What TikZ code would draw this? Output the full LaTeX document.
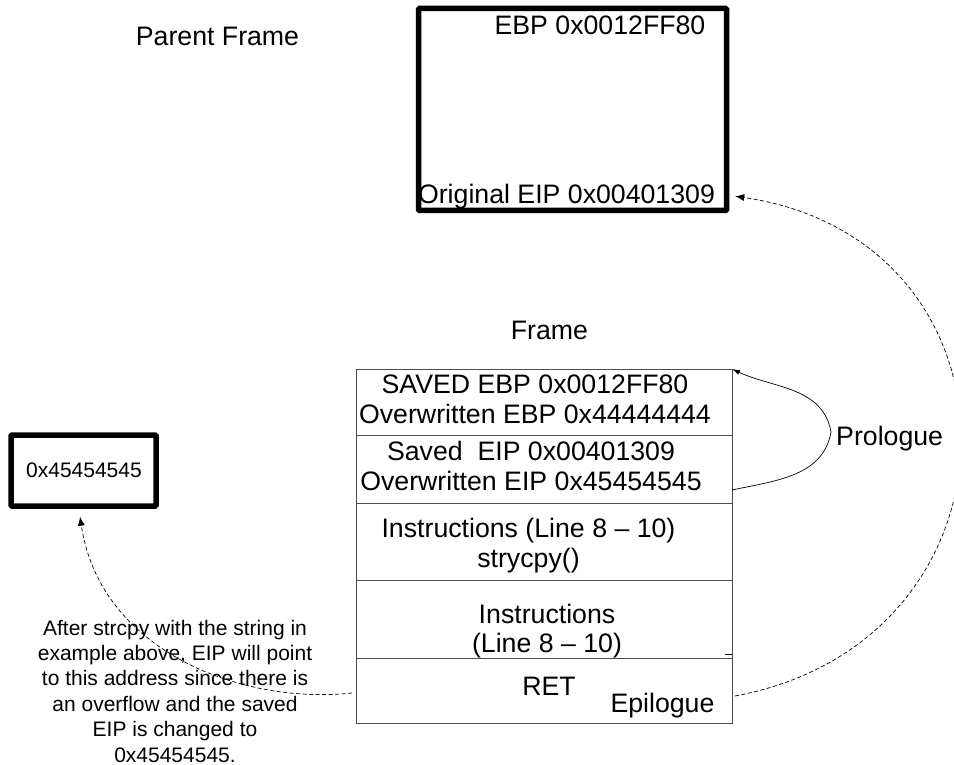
\documentclass[tikz,border=0pt]{standalone}
\usepackage{fontspec}
\setmainfont{Liberation Sans}
\usetikzlibrary{arrows.meta, positioning}

\begin{document}
\begin{tikzpicture}[
  x=1pt, y=-1pt,
  thickbox/.style={draw, line width=5.5pt, rounded corners=1pt, inner sep=0pt},
  cell/.style={draw=black!70, line width=1pt, minimum width=376pt, inner sep=0pt, outer sep=0pt},
  bigtext/.style={font=\fontsize{26.7}{29.5}\selectfont, align=center, inner sep=0pt},
  smalltext/.style={font=\fontsize{21}{25.4}\selectfont, align=center, inner sep=0pt},
  arrow/.style={-{Latex[length=9pt,width=7pt]}},
  dashedarrow/.style={arrow, line width=0.7pt, dash pattern=on 4pt off 2.5pt}
]
\useasboundingbox (0,0) rectangle (954,765);

% Parent frame
\node [bigtext, anchor=base] (parenttitle) at (217.5,46) {Parent Frame};
\node [thickbox, minimum width=308pt, minimum height=202pt] (parentbox) at (572.5,109.5) {};
\node [bigtext, anchor=base] (ebpold) at (600,35) {EBP 0x0012FF80};
\node [bigtext, anchor=base] (eipold) at (566.5,204) {Original EIP 0x00401309};

% Frame of the called function
\node [bigtext, anchor=base] (frametitle) at (549.5,339) {Frame};
\node [cell, minimum height=66pt] (ebpcell) at (544,402) {};
\node [cell, minimum height=68pt, below=0pt of ebpcell] (eipcell) {};
\node [cell, minimum height=77pt, below=0pt of eipcell] (strcell) {};
\node [cell, minimum height=78pt, below=0pt of strcell] (insncell) {};
\node [cell, minimum height=65pt, below=0pt of insncell] (retcell) {};

\node [bigtext] (ebptext) at ([xshift=-9pt,yshift=2.5pt]ebpcell.center)
  {SAVED EBP 0x0012FF80\\Overwritten EBP 0x44444444};
\node [bigtext] (eiptext) at ([xshift=-13pt,yshift=3pt]eipcell.center)
  {Saved\ \ EIP 0x00401309\\Overwritten EIP 0x45454545};
\node [bigtext] (strtext) at ([xshift=-15.5pt,yshift=-4pt]strcell.center)
  {Instructions (Line 8 -- 10)\\strycpy()};
\node [bigtext] (insntext) at ([xshift=3pt,yshift=-12pt]insncell.center)
  {Instructions\\(Line 8 -- 10)};
\node [bigtext, anchor=base] (rettext) at (549,695) {RET};
\node [bigtext, anchor=base] (epilogue) at (662.5,712) {Epilogue};

% Prologue loop
\node [bigtext, anchor=base west] (prologue) at (836,445) {Prologue};
\coordinate (peak) at (831,432);
\draw [-{Latex[length=8pt,width=5pt]}, line width=0.7pt]
  ([yshift=13pt]eipcell.south east) to[out=12,in=-100] (peak)
  to[out=100,in=-25] (ebpcell.north east);
\coordinate (tick) at ([yshift=4pt]insncell.south east);
\draw [line width=0.7pt] (tick) -- ++(-7,0);

% Epilogue returns to the parent
\coordinate (epiout) at ([xshift=3pt,yshift=-5.5pt]retcell.east);
\coordinate (eipin) at ([xshift=6pt,yshift=17pt]parentbox.south east);
\draw [dashedarrow] (epiout) .. controls (1035,640) and (1035,240) .. (eipin);

% Overwritten return address
\node [thickbox, minimum width=145pt, minimum height=71pt] (newbox) at (83.5,470.5) {};
\node [smalltext, anchor=base] (newaddr) at (84,477) {0x45454545};
\node [smalltext] (note) at (175,691)
  {After strcpy with the string in\\example above, EIP will point\\to this address since there is\\an overflow and the saved\\EIP is changed to\\0x45454545.};
\coordinate (retout) at ([xshift=-4pt,yshift=-2.5pt]retcell.west);
\coordinate (newin) at ([xshift=-3.5pt,yshift=-8pt]newbox.south);
\draw [dashedarrow] (retout) .. controls (240,705) and (100,650) .. (newin);

\end{tikzpicture}
\end{document}
